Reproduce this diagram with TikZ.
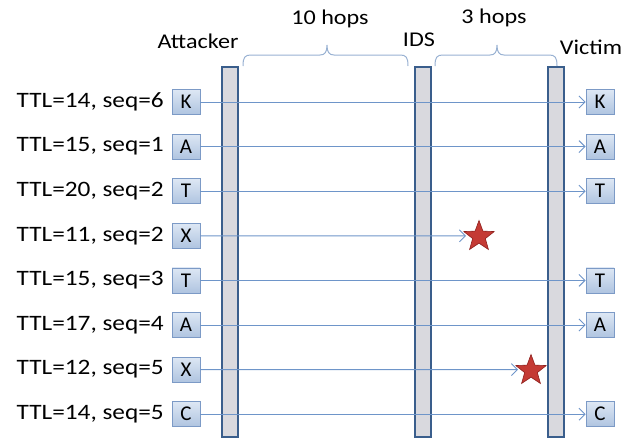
\documentclass[tikz,border=0pt]{standalone}
\usepackage{fontspec}
\setmainfont{Carlito}
\usetikzlibrary{arrows.meta,shapes.geometric}
\definecolor{barfill}{HTML}{D9D9DE}
\definecolor{barline}{HTML}{3A5E8C}
\definecolor{boxtop}{HTML}{DDE7F4}
\definecolor{boxbot}{HTML}{AFC4E0}
\definecolor{boxline}{HTML}{7C9AC6}
\definecolor{arrowc}{HTML}{6E95C9}
\definecolor{bracec}{HTML}{98B1D2}
\definecolor{starfill}{HTML}{C43A34}
\definecolor{starline}{HTML}{8E1F1C}
\newcommand{\wide}[1]{\scalebox{1.15}[1]{#1}}
\tikzset{
  lbl/.style={font=\fontsize{22}{25}\selectfont, inner sep=0pt, text=black},
  hdr/.style={font=\fontsize{21}{24}\selectfont, inner sep=0pt, text=black},
  pkt/.style={draw=boxline, line width=0.8pt, top color=boxtop, bottom color=boxbot,
    minimum width=28pt, minimum height=25pt, inner sep=0pt,
    font=\fontsize{21}{24}\selectfont},
  hostbar/.style={draw=barline, fill=barfill, line width=2.2pt},
  flow/.style={draw=arrowc, line width=0.9pt, -{Straight Barb[length=6pt,width=12pt,line width=0.9pt]}},
  drop/.style={star, star points=5, star point ratio=2.4, minimum size=32pt, inner sep=0pt,
    fill=starfill, draw=starline, line width=0.6pt},
  bracel/.style={draw=bracec, line width=1pt}
}
\begin{document}
\begin{tikzpicture}[x=1pt,y=-1pt]
\useasboundingbox (0,0) rectangle (631,440);
% host bars
\draw[hostbar] (222,67) rectangle (238,437);
\draw[hostbar] (415,67) rectangle (431,437);
\draw[hostbar] (548,67) rectangle (564,437);
% headers
\node[hdr] (attacker) at (198,41) {\wide{Attacker}};
\node[hdr] (ids) at (419,40) {\wide{IDS}};
\node[hdr] (victim) at (591,47) {\wide{Victim}};
\node[hdr] (ten) at (330,19) {\wide{10 hops}};
\node[hdr] (three) at (494,18) {\wide{3 hops}};
% braces
\draw[bracel] (243,66) .. controls (243,57) and (245,55) .. (251,55) -- (320,55)
  .. controls (325,55) and (327,52) .. (327,45)
  .. controls (327,52) and (329,55) .. (334,55) -- (400,55)
  .. controls (406,55) and (408,57) .. (408,66);
\draw[bracel] (435,66) .. controls (435,57) and (437,55) .. (443,55) -- (490,55)
  .. controls (495,55) and (497,52) .. (497,45)
  .. controls (497,52) and (499,55) .. (504,55) -- (549,55)
  .. controls (555,55) and (557,57) .. (557,66);
% rows
\foreach \i/\txt/\ch in {0/{TTL=14, seq=6}/K,1/{TTL=15, seq=1}/A,2/{TTL=20, seq=2}/T,
  3/{TTL=11, seq=2}/X,4/{TTL=15, seq=3}/T,5/{TTL=17, seq=4}/A,6/{TTL=12, seq=5}/X,7/{TTL=14, seq=5}/C}{
  \pgfmathsetmacro{\yy}{102+44.6*\i}
  \node[lbl, anchor=east] (l\i) at (164,\yy) {\wide{\txt}};
  \node[pkt] (s\i) at (186,\yy) {\ch};
}
% received packets
\foreach \i/\ch in {0/K,1/A,2/T,4/T,5/A,7/C}{
  \pgfmathsetmacro{\yy}{102+44.6*\i}
  \node[pkt] (r\i) at (600,\yy) {\ch};
  \draw[flow] (s\i) -- (r\i);
}
% dropped packets
\node[drop] (d3) at (479,236.5) {};
\node[drop] (d6) at (531,370.5) {};
\coordinate (e3) at (466,235.8);
\coordinate (e6) at (518,369.6);
\draw[flow] (s3) -- (e3);
\draw[flow] (s6) -- (e6);
\end{tikzpicture}
\end{document}
